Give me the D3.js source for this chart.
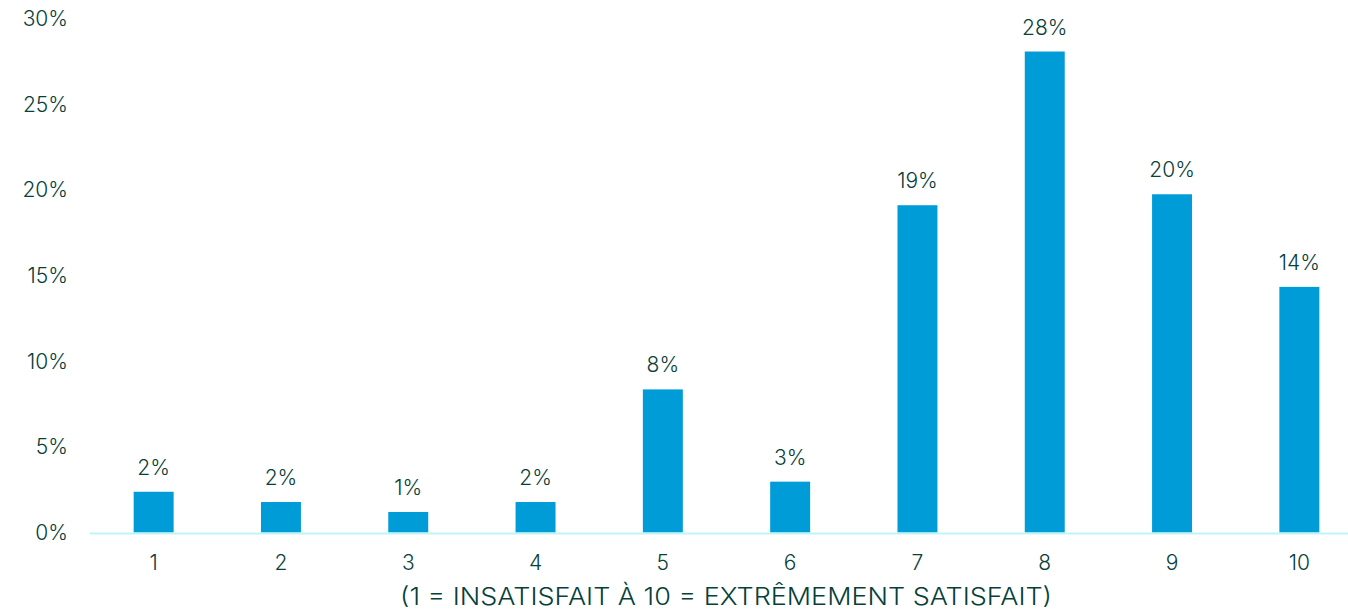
<!DOCTYPE html>
<html>
<head>
<meta charset="utf-8">
<script src="https://cdn.jsdelivr.net/npm/d3@7"></script>
<style>
  body { margin: 0; background: #fff; }
  text { font-family: "Inter", "Noto Sans", sans-serif; font-weight: 300; fill: #073f3a; }
</style>
</head>
<body>
<div id="chart"></div>
<script>
// données
const categories = ["1", "2", "3", "4", "5", "6", "7", "8", "9", "10"];
const values = [2.38, 1.78, 1.2, 1.78, 8.36, 2.97, 19.12, 28.1, 19.76, 14.35];
const valueLabels = ["2%", "2%", "1%", "2%", "8%", "3%", "19%", "28%", "20%", "14%"];
const yTicks = [0, 5, 10, 15, 20, 25, 30];
const axisTitle = "(1 = INSATISFAIT À 10 = EXTRÊMEMENT SATISFAIT)";

const W = 1348, H = 613;
const FONT = "Inter, 'Noto Sans', sans-serif";
const INK = "#073f3a";

const svg = d3.select("#chart")
  .append("svg")
  .attr("width", W)
  .attr("height", H);

// échelles
const x = d3.scaleBand()
  .domain(categories)
  .range([90, 1363])
  .paddingInner(0.686)
  .paddingOuter(0.343);

const y = d3.scaleLinear()
  .domain([0, 30])
  .range([532.5, 19]);

// axe Y (labels seulement)
const yAxis = d3.axisLeft(y)
  .tickValues(yTicks)
  .tickFormat(d => d + "%")
  .tickSize(0)
  .tickPadding(0);

svg.append("g")
  .attr("transform", "translate(68,0)")
  .call(yAxis)
  .call(g => g.select(".domain").remove())
  .selectAll("text")
  .style("font-size", "21px")
  .style("font-family", FONT)
  .attr("fill", INK);

// barres
svg.selectAll(".bar")
  .data(values)
  .enter()
  .append("rect")
  .attr("class", "bar")
  .attr("x", (d, i) => x(categories[i]))
  .attr("y", d => y(d))
  .attr("width", x.bandwidth())
  .attr("height", d => y(0) - y(d))
  .attr("fill", "#009cd8");

// étiquettes de valeurs
svg.selectAll(".val")
  .data(values)
  .enter()
  .append("text")
  .attr("class", "val")
  .attr("x", (d, i) => x(categories[i]) + x.bandwidth() / 2)
  .attr("y", d => y(d) - 17)
  .attr("text-anchor", "middle")
  .style("font-size", "21px")
  .text((d, i) => valueLabels[i]);

// axe X
const xAxis = d3.axisBottom(x).tickSize(0).tickPadding(0);
const gx = svg.append("g")
  .attr("transform", `translate(0,${y(0)})`)
  .call(xAxis);
gx.select(".domain").remove();
gx.selectAll("text")
  .attr("y", 37)
  .attr("dy", null)
  .style("font-size", "21px")
  .style("font-family", FONT)
  .attr("fill", INK);

svg.append("line")
  .attr("x1", 90)
  .attr("x2", W)
  .attr("y1", y(0) + 1)
  .attr("y2", y(0) + 1)
  .attr("stroke", "#bdf5f5")
  .attr("stroke-width", 2);

// titre de l'axe
svg.append("text")
  .attr("x", 726)
  .attr("y", 605)
  .attr("text-anchor", "middle")
  .style("font-size", "24px")
  .attr("textLength", 652)
  .attr("lengthAdjust", "spacingAndGlyphs")
  .text(axisTitle);
</script>
</body>
</html>
